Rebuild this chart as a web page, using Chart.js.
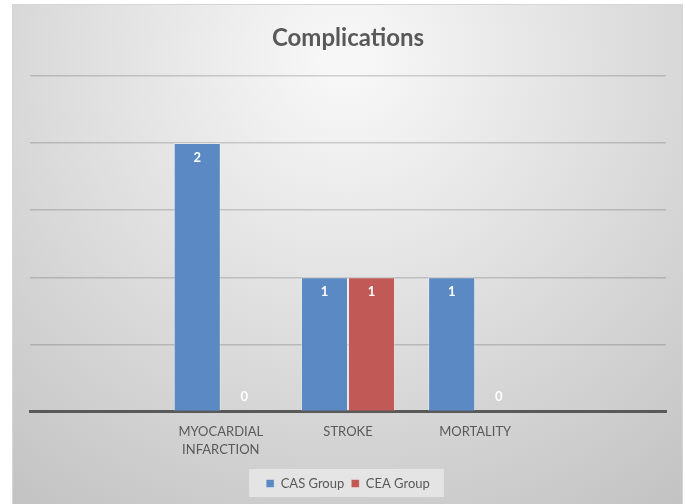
<!DOCTYPE html>
<html>
<head>
<meta charset="utf-8">
<script src="https://cdn.jsdelivr.net/npm/chart.js@4/dist/chart.umd.min.js"></script>
<style>
  html, body { margin: 0; padding: 0; background: #ffffff; }
  #wrap { width: 685px; height: 504px; }
</style>
</head>
<body>
<div id="wrap"><canvas id="complicationsChart" width="685" height="504"></canvas></div>
<script>
// categories (empty slots at both ends, like the original sheet)
const categories = ['', ['MYOCARDIAL', 'INFARCTION'], 'STROKE', 'MORTALITY', ''];
const casValues = [null, 2, 1, 1, null];
const ceaValues = [null, 0, 1, 0, null];
const seriesNames = ['CAS Group', 'CEA Group'];

const textGrey = '#595959';
const fontName = 'Lato, "Open Sans", sans-serif';

// grey gradient panel behind everything
const panelBg = {
    id: 'panelBg',
    beforeDraw(chart) {
        const ctx = chart.ctx;
        ctx.save();
        const g = ctx.createRadialGradient(345, 60, 20, 345, 60, 560);
        g.addColorStop(0, '#f7f7f7');
        g.addColorStop(1, '#c2c2c2');
        ctx.fillStyle = g;
        ctx.fillRect(12, 4, 671, 500);
        ctx.strokeStyle = '#d6d6d6';
        ctx.lineWidth = 1;
        ctx.strokeRect(12.5, 4.5, 670, 500);

        // light box behind legend items
        const boxes = chart.legend && chart.legend.legendHitBoxes;
        if (boxes && boxes.length) {
            const l = Math.min(...boxes.map(b => b.left)) - 17;
            const r = Math.max(...boxes.map(b => b.left + b.width)) + 14;
            const t = boxes[0].top - 8;
            const h = boxes[0].height + 15;
            ctx.fillStyle = 'rgba(235,235,235,0.75)';
            ctx.fillRect(l, t, r - l, h);
        }
        ctx.restore();
    }
};

// white value labels just inside the end of each bar
const valueLabels = {
    id: 'valueLabels',
    afterDatasetsDraw(chart) {
        const ctx = chart.ctx;
        ctx.save();
        ctx.fillStyle = '#ffffff';
        ctx.font = 'bold 13px ' + fontName;
        ctx.textAlign = 'center';
        ctx.textBaseline = 'middle';
        chart.data.datasets.forEach((ds, i) => {
            const meta = chart.getDatasetMeta(i);
            meta.data.forEach((bar, j) => {
                const v = ds.data[j];
                if (v === null || v === undefined) return;
                const y = v > 0 ? bar.y + 15 : bar.y - 15;
                ctx.fillText(String(v), bar.x, y);
            });
        });
        ctx.restore();
    }
};

new Chart(document.getElementById('complicationsChart'), {
    type: 'bar',
    data: {
        labels: categories,
        datasets: [
            {
                label: seriesNames[0],
                data: casValues,
                backgroundColor: '#5b89c3',
                borderColor: 'rgba(255,255,255,0.35)',
                borderWidth: 1
            },
            {
                label: seriesNames[1],
                data: ceaValues,
                backgroundColor: '#c15a57',
                borderColor: 'rgba(255,255,255,0.35)',
                borderWidth: 1
            }
        ]
    },
    options: {
        responsive: false,
        animation: false,
        devicePixelRatio: 1,
        barPercentage: 1,
        categoryPercentage: 0.74,
        layout: {
            padding: { left: 30, right: 19, top: 4, bottom: 4 }
        },
        scales: {
            x: {
                grid: { display: false, drawTicks: false },
                border: { display: true, color: '#595959', width: 3 },
                ticks: {
                    color: textGrey,
                    font: { family: fontName, size: 13, lineHeight: 1.4 },
                    padding: 11,
                    maxRotation: 0,
                    autoSkip: false
                }
            },
            y: {
                min: 0,
                max: 2.5,
                ticks: { display: false, stepSize: 0.5 },
                grid: { color: 'rgba(0,0,0,0.16)', lineWidth: 1.5, drawTicks: false },
                border: { display: false }
            }
        },
        plugins: {
            title: {
                display: true,
                text: 'Complications',
                color: textGrey,
                font: { family: fontName, size: 24, weight: 'bold' },
                padding: { top: 20, bottom: 23 }
            },
            legend: {
                position: 'bottom',
                labels: {
                    color: textGrey,
                    font: { family: fontName, size: 13 },
                    boxWidth: 8,
                    boxHeight: 8,
                    padding: 7
                }
            },
            tooltip: { enabled: false }
        }
    },
    plugins: [panelBg, valueLabels]
});
</script>
</body>
</html>
